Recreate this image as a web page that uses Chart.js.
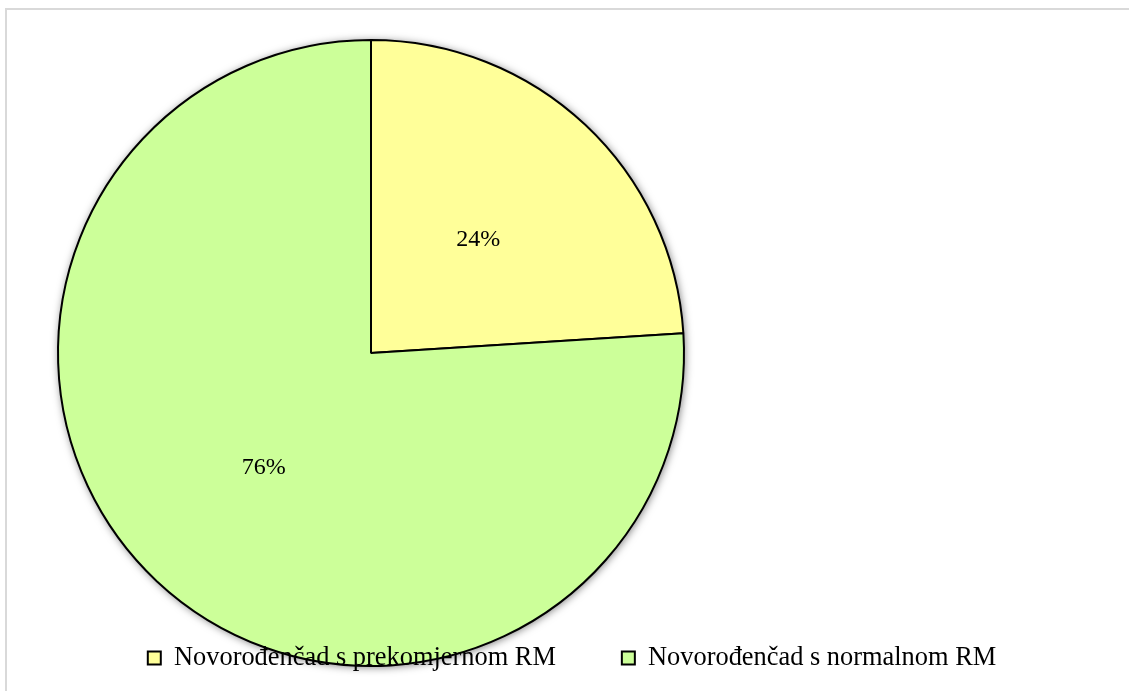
<!DOCTYPE html>
<html>
<head>
<meta charset="utf-8">
<script src="https://cdn.jsdelivr.net/npm/chart.js@4.4.0/dist/chart.umd.min.js"></script>
<style>
  html, body { margin: 0; padding: 0; background: #fff; overflow: hidden; }
  .frame { position: absolute; left: 5px; top: 8px; width: 1200px; height: 800px; border: 2px solid #d9d9d9; }
  #wrap { position: absolute; left: 0; top: 0; width: 1129px; height: 691px; }
</style>
</head>
<body>
<div class="frame"></div>
<div id="wrap"><canvas id="pie"></canvas></div>
<script>
const labels = ["Novorođenčad s prekomjernom RM", "Novorođenčad s normalnom RM"];
const shares = [24, 76];
const sliceColors = ["#ffff99", "#ccff99"];

// placement
const PIE_CX = 371, PIE_CY = 353, PIE_R = 313;
const LEG_FONT = 26.4, LEG_PAD = 66, LEGEND_CX = 572, LEGEND_TEXT_Y = 658;
const LABEL_FONT = 24;

// ---------- layout: pie left of centre, legend laid over the pie ----------
const layoutFix = {
  id: "layoutFix",
  beforeLayout(chart) {
    chart.legend._layers = () => [{ z: 1, draw: () => chart.legend.draw() }];
  },
  afterLayout(chart) {
    const a = chart.chartArea;
    a.left = PIE_CX - PIE_R;
    a.right = PIE_CX + PIE_R;
    a.top = PIE_CY - PIE_R;
    a.bottom = PIE_CY + PIE_R;
    a.width = a.right - a.left;
    a.height = a.bottom - a.top;

    const lg = chart.legend;
    const dx = LEGEND_CX - (lg.left + lg.right) / 2;
    const dy = LEGEND_TEXT_Y - LEG_PAD - LEG_FONT / 2 - lg.top;
    lg.left += dx; lg.right += dx;
    lg.top += dy; lg.bottom += dy;
  }
};

// ---------- soft shadow behind the pie ----------
const pieShadow = {
  id: "pieShadow",
  beforeDatasetsDraw(chart) {
    const arc = chart.getDatasetMeta(0).data[0];
    if (!arc) return;
    const ctx = chart.ctx;
    ctx.save();
    ctx.shadowColor = "rgba(0,0,0,0.55)";
    ctx.shadowBlur = 9;
    ctx.shadowOffsetX = 1;
    ctx.shadowOffsetY = 1;
    ctx.fillStyle = "#fff";
    ctx.beginPath();
    ctx.arc(arc.x, arc.y, arc.outerRadius, 0, Math.PI * 2);
    ctx.fill();
    ctx.restore();
  }
};

// ---------- percent labels ----------
const pctLabels = {
  id: "pctLabels",
  afterDatasetsDraw(chart) {
    const ctx = chart.ctx;
    ctx.save();
    ctx.font = LABEL_FONT + "px 'Liberation Serif', 'Times New Roman', serif";
    ctx.fillStyle = "#000";
    ctx.textAlign = "center";
    ctx.textBaseline = "middle";
    chart.getDatasetMeta(0).data.forEach((arc, i) => {
      const p = arc.getCenterPoint();
      ctx.fillText(shares[i] + "%", p.x, p.y + 1);
    });
    ctx.restore();
  }
};

new Chart(document.getElementById("pie"), {
  type: "pie",
  data: {
    labels,
    datasets: [{
      data: shares,
      backgroundColor: sliceColors,
      borderColor: "#000",
      borderWidth: 2,
      radius: PIE_R,
      clip: false,
    }],
  },
  options: {
    responsive: true,
    maintainAspectRatio: false,
    animation: false,
    events: [],
    layout: { padding: 0 },
    plugins: {
      tooltip: { enabled: false },
      legend: {
        position: "bottom",
        labels: {
          color: "#000",
          boxWidth: 13,
          boxHeight: 13,
          padding: LEG_PAD,
          font: { family: "'Liberation Serif', 'Times New Roman', serif", size: LEG_FONT },
        },
      },
    },
  },
  plugins: [layoutFix, pieShadow, pctLabels],
});
</script>
</body>
</html>
